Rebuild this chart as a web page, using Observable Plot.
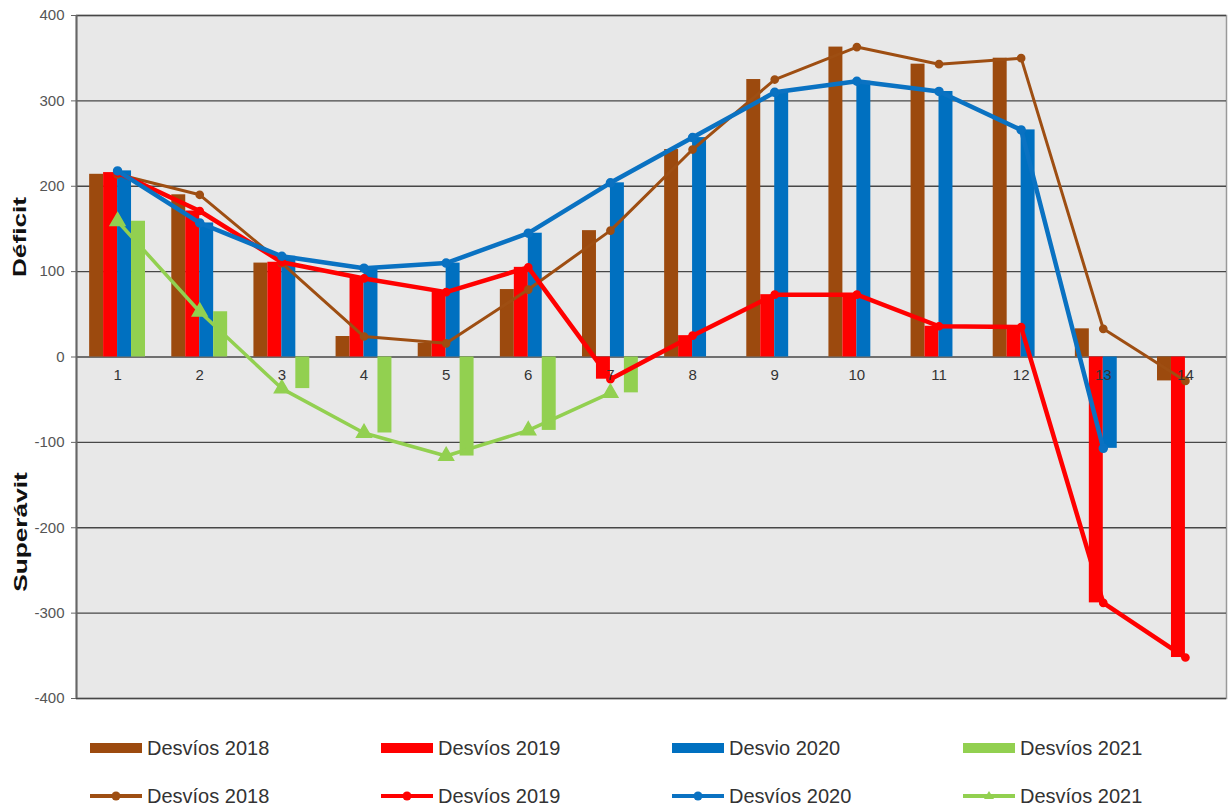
<!DOCTYPE html>
<html><head><meta charset="utf-8">
<script src="https://cdn.jsdelivr.net/npm/d3@7"></script>
<script src="https://cdn.jsdelivr.net/npm/@observablehq/plot@0.6"></script>
<style>
body{margin:0;background:#fff;font-family:"Liberation Sans",Arial,sans-serif;}
#wrap{position:relative;width:1229px;height:809px;overflow:hidden;}
#chart{position:absolute;left:0;top:0;}
.leg{position:absolute;display:flex;align-items:center;font-size:20px;color:#333;white-space:nowrap;height:24px;}
.ytitle{position:absolute;font-size:19px;font-weight:bold;color:#111;transform:translate(-50%,-50%) rotate(-90deg) scaleX(1.38);white-space:nowrap;}
</style></head><body><div id="wrap"><div id="chart"></div><div id="legend"></div></div>
<script>
// ---- data ----
const categories = [1,2,3,4,5,6,7,8,9,10,11,12,13,14];
const desvios2018 = [214, 190, 110, 24, 16, 79, 148, 243, 325, 363, 343, 350, 33, -28];
const desvios2019 = [216, 171, 111, 92, 76, 105, -26, 25, 73, 73, 36, 35, -288, -352];
const desvios2020 = [218, 157, 118, 104, 110, 145, 204, 257, 310, 323, 311, 266, -107, null];
const desvios2021 = [159, 53, -37, -89, -116, -86, -42, null, null, null, null, null, null, null];
const years = ["2018", "2019", "2020", "2021"];
const barLabels = ["Desvíos 2018", "Desvíos 2019", "Desvio 2020", "Desvíos 2021"];
const lineLabels = ["Desvíos 2018", "Desvíos 2019", "Desvíos 2020", "Desvíos 2021"];
const yTicks = [-400, -300, -200, -100, 0, 100, 200, 300, 400];
const yTitles = ["Déficit", "Superávit"];

// ---- styles ----
const barColors = ["#9C4A0E", "#FF0000", "#0070C0", "#92D050"];
const lineColors = ["#9E4E12", "#FF0000", "#0A72C2", "#92D050"];
const lineWidths = [3, 4.5, 4.5, 3.5];
const symbols = ["circle", "circle", "circle", "triangle"];
const symbolR = [3.6, 3.6, 4, 5.5];
const barW = 0.17;

const seriesValues = [desvios2018, desvios2019, desvios2020, desvios2021];
const rows = [];
seriesValues.forEach((vals, k) => vals.forEach((v, i) => {
  if (v !== null) rows.push({cat: categories[i], year: years[k], k, value: v});
}));

const marks = [
  Plot.frame({fill: "#E8E8E8", stroke: "#9a9a9a", strokeWidth: 1.5}),
  Plot.ruleY(yTicks, {stroke: "#474747", strokeWidth: 1.3}),
  Plot.rectY(rows, {
    x1: d => d.cat + (d.k - 2) * barW,
    x2: d => d.cat + (d.k - 1) * barW,
    y1: 0, y2: "value",
    fill: d => barColors[d.k]
  })
];
years.forEach((yr, k) => {
  const data = rows.filter(d => d.k === k);
  marks.push(Plot.line(data, {x: "cat", y: "value", stroke: lineColors[k], strokeWidth: lineWidths[k]}));
  marks.push(Plot.dot(data, {x: "cat", y: "value", fill: lineColors[k], stroke: lineColors[k], symbol: symbols[k], r: symbolR[k]}));
});
marks.push(
  Plot.ruleX([0.5], {stroke: "#666", strokeWidth: 2}),
  Plot.axisY({ticks: yTicks, tickSize: 5, tickPadding: 7, fontSize: 15, fill: "#555", stroke: "#666", label: null, tickFormat: d => String(d)}),
  Plot.text(categories, {x: d => d, y: 0, dy: 18, text: d => String(d), fontSize: 15, fill: "#333"})
);

const chart = Plot.plot({
  width: 1229, height: 710,
  marginLeft: 76, marginRight: 3, marginTop: 15, marginBottom: 12,
  x: {domain: [0.5, 14.5], axis: null},
  y: {domain: [-400, 400], axis: null},
  style: {fontFamily: "'Liberation Sans', Arial, sans-serif", background: "#fff"},
  marks
});
document.getElementById("chart").appendChild(chart);

// axis titles
const wrap = document.getElementById("wrap");
[[yTitles[0], 20, 237], [yTitles[1], 21, 532]].forEach(([t, x, y]) => {
  const el = document.createElement("div");
  el.className = "ytitle"; el.textContent = t;
  el.style.left = x + "px"; el.style.top = y + "px";
  wrap.appendChild(el);
});

// legend
const legend = document.getElementById("legend");
const ns = "http://www.w3.org/2000/svg";
function addItem(label, k, row) {
  const item = document.createElement("div");
  item.className = "leg";
  item.style.left = (90 + k * 291) + "px";
  item.style.top = (row === 0 ? 736 : 784) + "px";
  const svg = document.createElementNS(ns, "svg");
  svg.setAttribute("width", 56); svg.setAttribute("height", 24);
  svg.style.marginRight = "1px";
  if (row === 0) {
    const r = document.createElementNS(ns, "rect");
    r.setAttribute("x", 0); r.setAttribute("y", 7); r.setAttribute("width", 52); r.setAttribute("height", 10);
    r.setAttribute("fill", barColors[k]);
    svg.appendChild(r);
  } else {
    const l = document.createElementNS(ns, "line");
    l.setAttribute("x1", 0); l.setAttribute("x2", 52); l.setAttribute("y1", 12); l.setAttribute("y2", 12);
    l.setAttribute("stroke", lineColors[k]); l.setAttribute("stroke-width", 4);
    svg.appendChild(l);
    let m;
    if (symbols[k] === "triangle") {
      m = document.createElementNS(ns, "path");
      m.setAttribute("d", "M26,7 L31,15 L21,15 Z");
    } else {
      m = document.createElementNS(ns, "circle");
      m.setAttribute("cx", 26); m.setAttribute("cy", 12); m.setAttribute("r", 4.5);
    }
    m.setAttribute("fill", lineColors[k]);
    svg.appendChild(m);
  }
  item.appendChild(svg);
  const span = document.createElement("span");
  span.textContent = label;
  item.appendChild(span);
  legend.appendChild(item);
}
barLabels.forEach((l, k) => addItem(l, k, 0));
lineLabels.forEach((l, k) => addItem(l, k, 1));
</script>
</body></html>
